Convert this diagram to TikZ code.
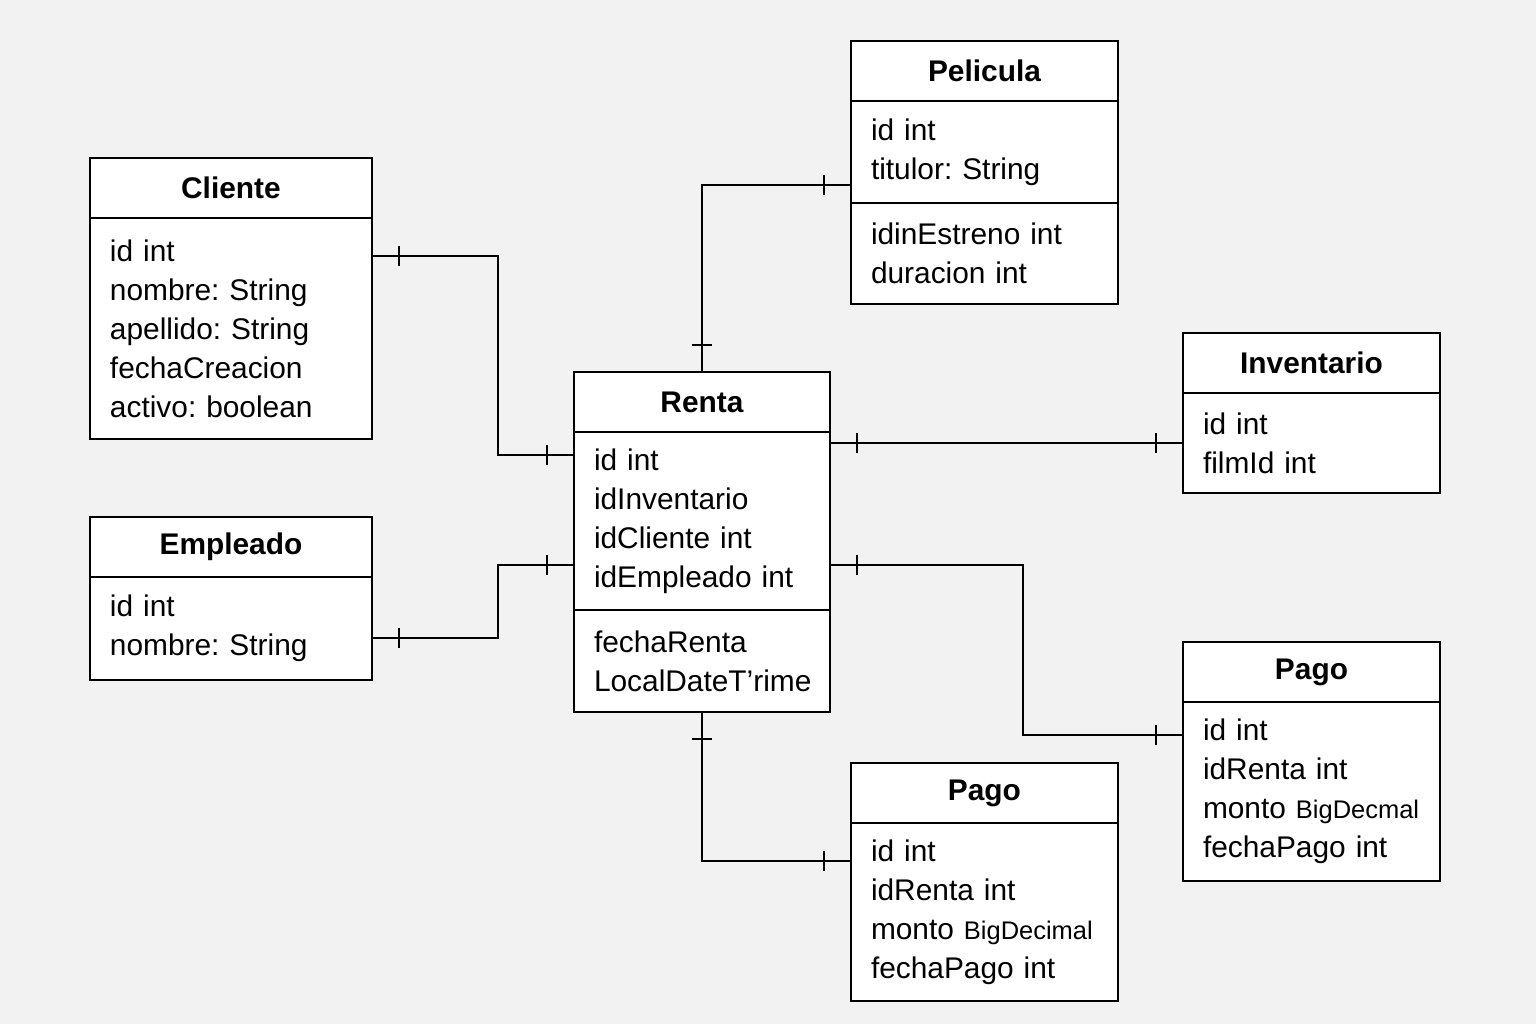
\documentclass[tikz,border=0pt]{standalone}
\usepackage{fontspec}
\setmainfont{Liberation Sans}
\usetikzlibrary{positioning,decorations.markings}
\definecolor{paper}{RGB}{242,242,242}
\newcommand{\bigdec}[1]{{\fontsize{14.5}{22.2}\selectfont #1}}
\tikzset{
  hdr/.style={draw, line width=1.1pt, fill=white, anchor=north west, minimum height=1.2cm,
    inner sep=0pt, outer sep=0pt, font=\fontsize{17}{22.2}\selectfont\bfseries},
  attr/.style={draw, line width=1.1pt, fill=white, anchor=north west, inner ysep=0pt, inner xsep=0.4cm,
    outer sep=0pt, align=left, font=\fontsize{17}{22.2}\selectfont},
  rel/.style={line width=1.1pt, postaction={decorate}, decoration={markings,
    mark=at position 0.54cm with {\draw[line width=1.1pt] (0,-0.2cm) -- (0,0.2cm);},
    mark=at position -0.54cm with {\draw[line width=1.1pt] (0,-0.2cm) -- (0,0.2cm);}}}
}
\begin{document}
\hyphenpenalty=10000
\frenchspacing
\begin{tikzpicture}[x=0.02cm, y=-0.02cm]
  \fill[paper] (0,0) rectangle (1536,1024);
  % entities: name/title/x/y/width/body height/body
  \foreach \n/\t/\x/\y/\w/\h/\b in {
      Cli/Cliente/90/158/5.64/4.42/{id int\\nombre: String\\apellido: String\\fechaCreacion\\activo: boolean},
      Emp/Empleado/90/517/5.64/2.06/{id int\\nombre: String},
      Ren/Renta/574/372/5.12/3.56/{id int\\idInventario\\idCliente int\\idEmpleado int},
      Pel/Pelicula/851/41/5.34/2.04/{id int\\titulor: String},
      Inv/Inventario/1183/333/5.14/2.0/{id int\\filmId int},
      PagoR/Pago/1183/642/5.14/3.58/{id int\\idRenta int\\monto \bigdec{BigDecmal}\\fechaPago int},
      PagoB/Pago/851/763/5.34/3.56/{id int\\idRenta int\\monto \bigdec{BigDecimal}\\fechaPago int}}{
    \pgfmathsetmacro\tw{\w-0.8}
    \node[hdr, minimum width=\w cm](\n) at (\x,\y){\t};
    \node[attr, minimum width=\w cm, minimum height=\h cm, text width=\tw cm](\n A) at (\n.south west){\b};
  }
  % second compartments
  \node[attr, minimum width=5.12cm, minimum height=2.04cm, text width=4.32cm](RenB) at (RenA.south west){fechaRenta\\LocalDateT'rime};
  \node[attr, minimum width=5.34cm, minimum height=2.02cm, text width=4.54cm](PelB) at (PelA.south west){idinEstreno int\\duracion int};
  % relations
  \draw[rel] ([yshift=-0.76cm]CliA.north east) -- ++(126,0) |- ([yshift=-0.46cm]RenA.north west);
  \draw[rel] ([yshift=-1.22cm]EmpA.north east) -- ++(126,0) |- ([yshift=-2.66cm]RenA.north west);
  \draw[rel] (Ren.north) |- ([yshift=-1.68cm]PelA.north west);
  \draw[rel] (RenA.east |- InvA.west) -- (InvA.west);
  \draw[rel] ([yshift=-2.66cm]RenA.north east) -- ++(193,0) |- ([yshift=-0.66cm]PagoRA.north west);
  \draw[rel] (RenB.south) |- ([yshift=-0.76cm]PagoBA.north west);
\end{tikzpicture}
\end{document}
